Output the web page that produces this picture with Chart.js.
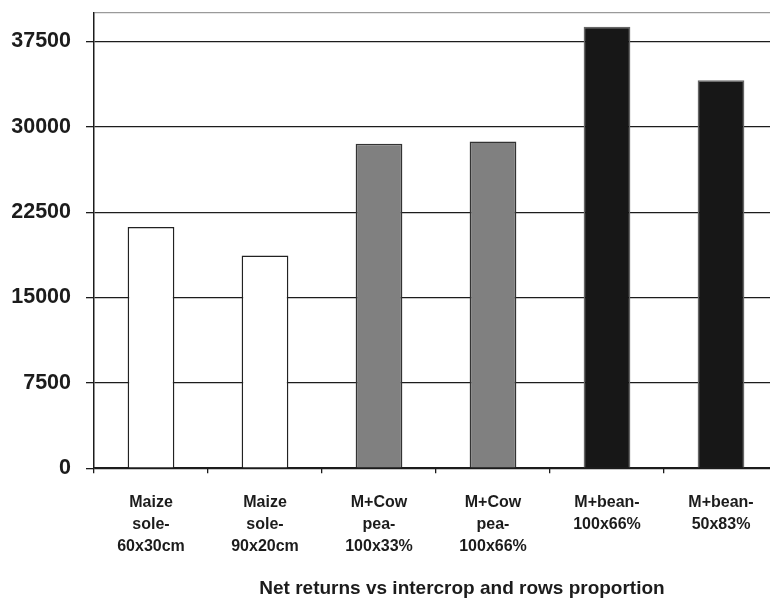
<!DOCTYPE html>
<html>
<head>
<meta charset="utf-8">
<script src="https://cdn.jsdelivr.net/npm/chart.js@4/dist/chart.umd.min.js"></script>
<style>
    html, body { margin: 0; padding: 0; background: #fff; overflow: hidden; }
    canvas { display: block; }
</style>
</head>
<body>
<canvas id="net-returns" width="924" height="600"></canvas>
<script>
// chart data
const categories = [
    ['Maize', 'sole-', '60x30cm'],
    ['Maize', 'sole-', '90x20cm'],
    ['M+Cow', 'pea-', '100x33%'],
    ['M+Cow', 'pea-', '100x66%'],
    ['M+bean-', '100x66%'],
    ['M+bean-', '50x83%']
];
const netReturns = [21200, 18700, 28500, 28700, 38800, 34100];
const yTickValues = [0, 7500, 15000, 22500, 30000, 37500];
const yAxisMax = 40000;
const xAxisTitle = 'Net returns vs intercrop and rows proportion';

// bar styles
const barFills = ['#ffffff', '#ffffff', '#808080', '#808080', '#171717', '#171717'];
const barEdges = ['#222222', '#222222', '#333333', '#333333', '#666666', '#666666'];

const FONT = "'Liberation Sans', Arial, sans-serif";
const INK = '#1c1c1c';

new Chart(
    document.getElementById('net-returns'),
    {
        type: 'bar',
        data: {
            labels: categories,
            datasets: [
                {
                    label: 'Net returns',
                    data: netReturns,
                    backgroundColor: barFills,
                    borderColor: barEdges,
                    borderWidth: 1.5,
                    categoryPercentage: 1,
                    barPercentage: 0.41
                }
            ]
        },
        options: {
            responsive: false,
            animation: false,
            layout: {
                padding: { top: 13, left: 0, right: 0, bottom: 0 }
            },
            plugins: {
                legend: { display: false },
                tooltip: { enabled: false },
                title: {
                    display: true,
                    position: 'bottom',
                    text: xAxisTitle,
                    color: INK,
                    padding: 0,
                    font: { family: FONT, size: 19, weight: 'bold', lineHeight: 1.2 }
                }
            },
            scales: {
                x: {
                    offset: true,
                    grid: {
                        offset: true,
                        drawOnChartArea: false,
                        drawTicks: true,
                        tickLength: 5,
                        color: INK,
                        lineWidth: 1.3
                    },
                    border: { color: INK, width: 1.5 },
                    ticks: {
                        color: INK,
                        padding: 19,
                        maxRotation: 0,
                        autoSkip: false,
                        font: { family: FONT, size: 16, weight: 'bold', lineHeight: 1.356 }
                    },
                    afterFit: scale => { scale.height = 109; }
                },
                y: {
                    min: 0,
                    max: yAxisMax,
                    afterBuildTicks: scale => {
                        scale.ticks = yTickValues.concat([yAxisMax]).map(v => ({ value: v }));
                    },
                    grid: {
                        color: ctx => ctx.tick && ctx.tick.value === yAxisMax ? '#9a9a9a' : INK,
                        tickColor: ctx => ctx.tick && ctx.tick.value === yAxisMax ? 'rgba(0,0,0,0)' : INK,
                        lineWidth: 1.3,
                        tickLength: 8
                    },
                    border: { color: INK, width: 1.5 },
                    ticks: {
                        color: INK,
                        padding: 15,
                        autoSkip: false,
                        font: { family: FONT, size: 21.5, weight: 'bold' },
                        callback: value => yTickValues.includes(value) ? String(value) : ''
                    },
                    afterFit: scale => {
                        scale.width = 94;
                        scale.paddingTop = 0;
                        scale.paddingBottom = 0;
                    }
                },
                // empty right axis, keeps the plot ending near the window edge
                spacer: {
                    type: 'linear',
                    position: 'right',
                    grid: { display: false },
                    border: { display: false },
                    ticks: { display: false },
                    afterFit: scale => {
                        scale.width = 146;
                        scale.paddingTop = 0;
                        scale.paddingBottom = 0;
                    }
                }
            }
        }
    }
);
</script>
</body>
</html>
